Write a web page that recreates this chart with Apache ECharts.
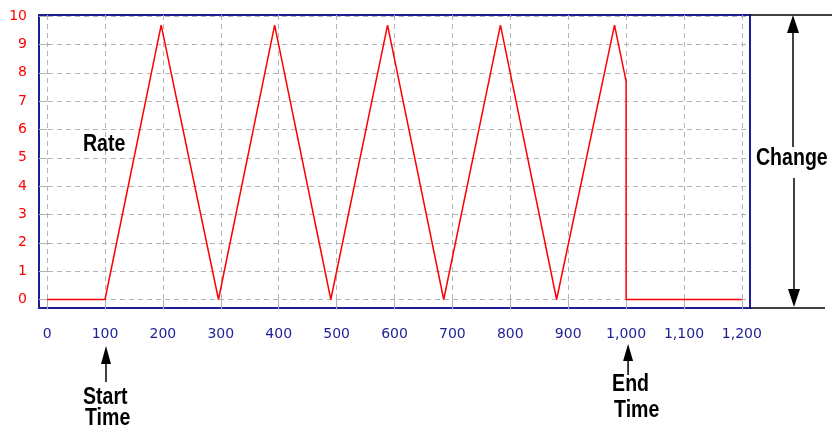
<!DOCTYPE html>
<html>
<head>
<meta charset="utf-8">
<script src="https://cdn.jsdelivr.net/npm/echarts@6/dist/echarts.min.js"></script>
<style>
  html, body { margin: 0; padding: 0; background: #fff; }
  #chart { width: 832px; height: 432px; }
</style>
</head>
<body>
<div id="chart"></div>
<script>
// Ramp profile: time (x) and rate (y) at each corner of the trace
const timeValues = [0, 100, 197, 296, 393, 490, 588, 685, 783, 880, 980, 1000, 1000, 1200];
const rateValues = [0, 0, 9.68, 0, 9.68, 0, 9.68, 0, 9.68, 0, 9.68, 7.7, 0, 0];

// Tick positions for both axes
const xTickValues = [0, 100, 200, 300, 400, 500, 600, 700, 800, 900, 1000, 1100, 1200];
const yTickValues = [0, 1, 2, 3, 4, 5, 6, 7, 8, 9, 10];

// Annotation texts and the times they point at
const rateLabel = 'Rate';
const changeLabel = 'Change';
const startLabel = ['Start', 'Time'];
const endLabel = ['End', 'Time'];
const startTime = 100;
const endTime = 1000;

const NAVY = '#1e1e94';
const RED = '#ff0000';
const GRID = '#b4b4b4';
const INK = '#000000';
// bold captions, squeezed horizontally to a condensed look
const NOTE_FONT = 'bold 23px "Liberation Sans", Arial, sans-serif';
const NOTE_SQUEEZE = 0.85;

const X_MIN = -14, X_MAX = 1214, Y_MIN = -0.3, Y_MAX = 10.04;

const chart = echarts.init(document.getElementById('chart'), null, { renderer: 'canvas' });

chart.setOption({
  animation: false,
  grid: {
    left: 39, right: 82, top: 15, bottom: 124,
    show: true, borderColor: NAVY, borderWidth: 2,
    containLabel: false
  },
  xAxis: {
    type: 'value', min: X_MIN, max: X_MAX,
    axisLine: { show: false },
    splitLine: { show: false },
    axisTick: { show: true, customValues: xTickValues, length: 10, lineStyle: { color: GRID, width: 1 } },
    axisLabel: {
      customValues: xTickValues, color: NAVY,
      fontFamily: 'DejaVu Sans', fontSize: 14, margin: 19,
      formatter: v => Number(v).toLocaleString('en-US')
    }
  },
  yAxis: {
    type: 'value', min: Y_MIN, max: Y_MAX,
    axisLine: { show: false },
    splitLine: { show: false },
    axisTick: { show: true, customValues: yTickValues, length: 7, lineStyle: { color: GRID, width: 1 } },
    axisLabel: {
      customValues: yTickValues, color: RED,
      fontFamily: 'DejaVu Sans', fontSize: 14, margin: 12
    }
  },
  series: [
    {
      // dashed grid spanning the whole plot frame
      type: 'line', data: [], silent: true, z: 1,
      markLine: {
        silent: true, symbol: 'none', z: 1, animation: false,
        label: { show: false },
        lineStyle: { color: GRID, type: [5, 4], width: 1 },
        data: [
          ...xTickValues.map(v => ({ xAxis: v })),
          ...yTickValues.map(v => ({ yAxis: v }))
        ]
      }
    },
    {
      type: 'line', z: 3,
      data: timeValues.map((t, i) => [t, rateValues[i]]),
      symbol: 'none', showSymbol: false,
      lineStyle: { color: RED, width: 1.5 }
    }
  ]
});

// Annotation arrows and captions, anchored to the axes
const px = (x, y) => chart.convertToPixel({ gridIndex: 0 }, [x, y]);
const frameRight = px(X_MAX, 0)[0];
const frameTop = px(0, Y_MAX)[1];
const frameBottom = px(0, Y_MIN)[1];

const seg = (x1, y1, x2, y2) => ({
  type: 'line', silent: true, z: 10,
  shape: { x1, y1, x2, y2 },
  style: { stroke: INK, lineWidth: 1.5 }
});
const head = (x, tipY, len, halfW) => ({
  type: 'polygon', silent: true, z: 10,
  shape: { points: [[x, tipY], [x - halfW, tipY + len], [x + halfW, tipY + len]] },
  style: { fill: INK }
});
const caption = (text, x, y) => ({
  type: 'text', silent: true, z: 10, x, y, scaleX: NOTE_SQUEEZE,
  style: { text, font: NOTE_FONT, fill: INK, align: 'left', verticalAlign: 'middle' }
});

const ratePos = px(62, 5.45);
const changeY = px(0, 4.96)[1];
const changeX = frameRight + 43;
const startX = px(startTime, 0)[0] + 1;
const endX = px(endTime, 0)[0] + 2;

chart.setOption({
  graphic: [
    caption(rateLabel, ratePos[0], ratePos[1]),

    // Change: span of the frame height
    seg(frameRight, frameTop, 832, frameTop),
    seg(frameRight, frameBottom, 825, frameBottom),
    seg(changeX, frameTop + 10, changeX, changeY - 12),
    head(changeX, frameTop, 18, 6),
    seg(changeX + 1, changeY + 19, changeX + 1, frameBottom - 10),
    head(changeX + 1, frameBottom - 1, -18, 6),
    caption(changeLabel, frameRight + 6, changeY),

    // Start time marker
    seg(startX, frameBottom + 48, startX, frameBottom + 74),
    head(startX, frameBottom + 38, 18, 5),
    caption(startLabel[0], startX - 23, frameBottom + 90),
    caption(startLabel[1], startX - 21, frameBottom + 111),

    // End time marker
    seg(endX, frameBottom + 46, endX, frameBottom + 67),
    head(endX, frameBottom + 36, 17, 5),
    caption(endLabel[0], endX - 16, frameBottom + 77),
    caption(endLabel[1], endX - 14, frameBottom + 103)
  ]
});
</script>
</body>
</html>
